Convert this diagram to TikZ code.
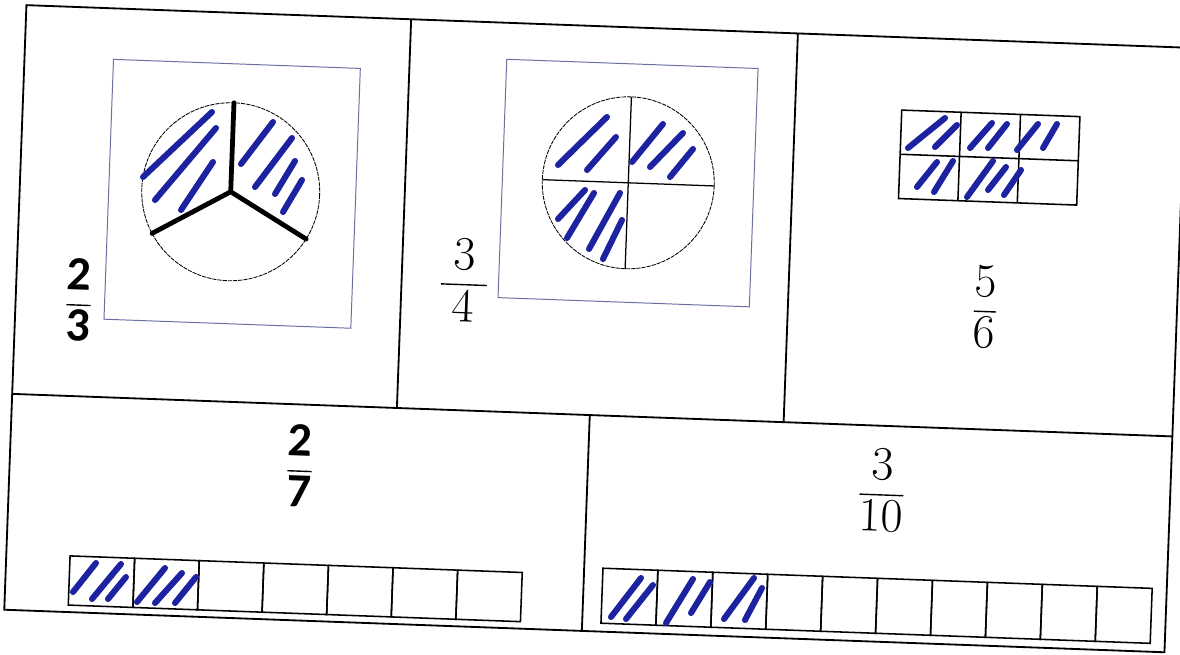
\documentclass[tikz,border=0pt]{standalone}
\usepackage{amsmath}
\usepackage{fontspec}
\newfontfamily\calfont{Carlito}
\newcommand{\fracnum}[2]{$\displaystyle\frac{\text{#1}}{\text{#2}}$}
\definecolor{boxblue}{RGB}{105,112,160}
\definecolor{pen}{RGB}{28,34,160}
\begin{document}
\begin{tikzpicture}[x=0.025cm, y=-0.025cm,
frame/.style={line width=1.3pt},
picbox/.style={draw=boxblue, line width=0.7pt},
rim/.style={line width=0.6pt, dash pattern=on 3pt off 0.7pt},
spoke/.style={line width=3.4pt, line cap=round},
cell/.style={line width=1.1pt},
hatch/.style={draw=pen, line width=4.3pt, line cap=round},
frac/.style={inner sep=0pt, transform shape, font=\fontsize{34}{40}\selectfont}
]
\useasboundingbox[fill=white] (0,0) rectangle (1180,654);

\begin{scope}[rotate around={-2.1:(590,327)}]
\draw[frame] (15,26) rectangle (1176,631);
\draw[frame] (15,415) -- (1176,415);
\draw[frame] (400,26) -- (400,415);
\draw[frame] (787,26) -- (787,415);
\draw[frame] (593,415) -- (593,631);

\draw[picbox] (104,77) rectangle (351,337);
\coordinate (c1) at (226,205);
\draw[rim] (c1) circle[radius=89];
\draw[spoke] (c1) -- ++(-90:89) (c1) -- ++(150:89) (c1) -- ++(30:89);
\node[frac] (f1) at (78,319) {\calfont\bfseries\fracnum{2}{3}};

\draw[picbox] (497,62.5) rectangle (748.5,301);
\coordinate (c2) at (623,181.5);
\draw[rim] (c2) circle[radius=86];
\draw[line width=0.9pt] (c2) ++(0,-86) -- ++(0,172) (c2) ++(-86,0) -- ++(172,0);
\node[frac] (f2) at (462.5,284.5) {\fracnum{3}{\hspace{0.25em}4\hspace{0.25em}}};

\draw[cell] (893.6,98.8) rectangle (1071.9,187.3);
\draw[cell] (893.6,143) -- (1071.9,143);
\foreach \i in {1,2}
  \draw[cell] ({893.6+59.43*\i},98.8) -- ++(0,88.5);
\node[frac] (f3) at (984,292.5) {\fracnum{5}{6}};

\node[frac] (f4) at (305,476.5) {\calfont\bfseries\fracnum{2}{7}};
\foreach \i in {0,...,6}
  \draw[cell] ({78.8+64.64*\i},574.8) rectangle ++(64.64,49.2);

\node[frac] (f5) at (887.4,479.5) {\fracnum{3}{10}};
\foreach \i in {0,...,9}
  \draw[cell] ({611.8+54.96*\i},567.6) rectangle ++(54.96,55);
\end{scope}

\draw[hatch] (143,177) -- (212,112) (155,200) -- (216,128) (181,210) -- (213,162)
  (241,164) -- (273,122) (255,187) -- (292,138) (275,194) -- (295,161) (283,212) -- (302,180);
\draw[hatch] (558,165) -- (607,117) (587,170) -- (616,137)
  (632,162) -- (663,124) (650,167) -- (683,133) (670,177) -- (693,149)
  (558,219) -- (585,190) (567,238) -- (594,193) (589,249) -- (620,193) (603,259) -- (622,220);
\draw[hatch] (908,148) -- (945,118) (935,147) -- (957,125)
  (970,148) -- (992,123) (988,148) -- (1007,124)
  (1017,150) -- (1038,124) (1043,148) -- (1057,124)
  (917,187) -- (937,162) (934,192) -- (953,161)
  (967,197) -- (993,161) (988,190) -- (1006,167) (1004,195) -- (1021,170);
\draw[hatch] (73,592) -- (96,563) (92,599) -- (121,564) (108,599) -- (126,577)
  (137,602) -- (165,568) (155,603) -- (182,573) (175,603) -- (196,577);
\draw[hatch] (611,617) -- (641,578) (626,619) -- (653,585)
  (666,623) -- (693,579) (691,613) -- (710,582)
  (724,619) -- (754,578) (745,620) -- (762,588);
\end{tikzpicture}
\end{document}
